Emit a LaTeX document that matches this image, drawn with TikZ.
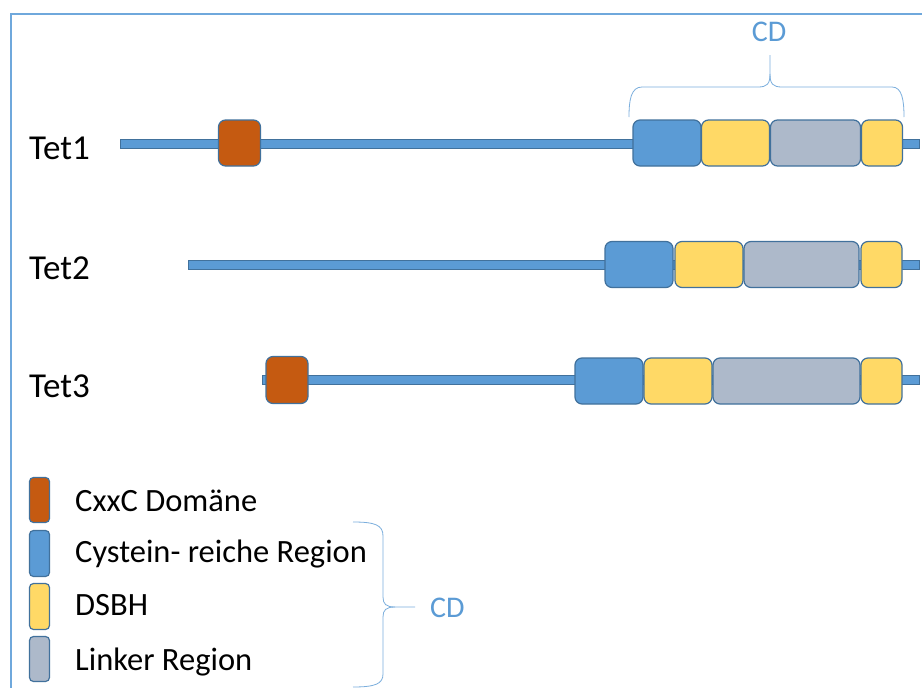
\documentclass[tikz,border=0pt]{standalone}
\usepackage{fontspec}
\setmainfont{Carlito}
\definecolor{cblue}{HTML}{5B9BD5}
\definecolor{cedge}{HTML}{41719C}
\definecolor{corange}{HTML}{C55A11}
\definecolor{cyellow}{HTML}{FFD966}
\definecolor{cgray}{HTML}{ADB9CA}
\definecolor{cframe}{HTML}{6FA8DC}
\tikzset{
  box/.style={draw=cedge, line width=1.2pt, rounded corners=7pt, inner sep=0pt},
  bar/.style={fill=cblue, draw=cedge, line width=0.8pt},
  lbl/.style={anchor=base west, inner sep=0pt, font=\fontsize{35}{40}\selectfont},
  leg/.style={anchor=base west, inner sep=0pt, font=\fontsize{32.5}{38}\selectfont},
  cdtxt/.style={inner sep=0pt, text=cblue, font=\fontsize{30}{36}\selectfont},
  brace/.style={draw=cblue!80, line width=0.8pt},
  frame/.style={draw=cframe, line width=2pt},
}
\begin{document}
\begin{tikzpicture}[x=1pt,y=-1pt]
\useasboundingbox (0,0) rectangle (922,688);
\fill[white] (0,0) rectangle (922,688);
% frame
\draw[frame] (10.5,688) -- (10.5,13.5) -- (922,13.5);

% ---------- Tet1 ----------
\node[lbl] (tet1) at (29,159) {Tet1};
\draw[bar] (120,139.5) rectangle (919,148.5);
\node[box, fill=corange, minimum width=42pt, minimum height=46pt] (t1c) at (239.5,143) {};
\node[box, fill=cblue, minimum width=68pt, minimum height=46pt] (t1a) at (667,143) {};
\node[box, fill=cyellow, minimum width=68pt, minimum height=46pt] (t1b) at (735.5,143) {};
\node[box, fill=cgray, minimum width=90pt, minimum height=46pt] (t1d) at (815.5,143) {};
\node[box, fill=cyellow, minimum width=41pt, minimum height=46pt] (t1e) at (882,143) {};

% top brace + CD
\draw[brace] (629,117) .. controls (629,100) and (631,87) .. (642,87) -- (758,87)
  .. controls (767,87) and (770,84) .. (770,74) -- (770,55);
\draw[brace] (770,74) .. controls (770,84) and (773,87) .. (782,87) -- (892,87)
  .. controls (902,87) and (904,100) .. (904,117);
\node[cdtxt, anchor=base] (cdtop) at (769,41.5) {CD};

% ---------- Tet2 ----------
\node[lbl] (tet2) at (29,279) {Tet2};
\draw[bar] (188.5,260) rectangle (919,269);
\node[box, fill=cblue, minimum width=68pt, minimum height=46pt] (t2a) at (639,264.5) {};
\node[box, fill=cyellow, minimum width=68pt, minimum height=46pt] (t2b) at (709,264.5) {};
\node[box, fill=cgray, minimum width=115pt, minimum height=46pt] (t2d) at (801.5,264.5) {};
\node[box, fill=cyellow, minimum width=41pt, minimum height=46pt] (t2e) at (881.5,264.5) {};

% ---------- Tet3 ----------
\node[lbl] (tet3) at (29,397) {Tet3};
\draw[bar] (262.5,375.5) rectangle (919,384.5);
\node[box, fill=corange, minimum width=42pt, minimum height=47pt] (t3c) at (287,380) {};
\node[box, fill=cblue, minimum width=68pt, minimum height=46pt] (t3a) at (609,381) {};
\node[box, fill=cyellow, minimum width=68pt, minimum height=46pt] (t3b) at (678,381) {};
\node[box, fill=cgray, minimum width=147pt, minimum height=46pt] (t3d) at (786.5,381) {};
\node[box, fill=cyellow, minimum width=41pt, minimum height=46pt] (t3e) at (881.5,381) {};

% ---------- Legend ----------
\node[box, fill=corange, minimum width=20pt, minimum height=45pt, rounded corners=4pt] (k1) at (39.5,500) {};
\node[box, fill=cblue, minimum width=20pt, minimum height=46pt, rounded corners=4pt] (k2) at (39.5,553.5) {};
\node[box, fill=cyellow, minimum width=20pt, minimum height=46pt, rounded corners=4pt] (k3) at (39.5,606.5) {};
\node[box, fill=cgray, minimum width=20pt, minimum height=45pt, rounded corners=4pt] (k4) at (39.5,659) {};
\node[leg] (l1) at (75,511) {CxxC Domäne};
\node[leg] (l2) at (75,562) {Cystein- reiche Region};
\node[leg] (l3) at (75,615) {DSBH};
\node[leg] (l4) at (75,670) {Linker Region};

% legend brace + CD
\draw[brace] (353,522) .. controls (375,522) and (383,525) .. (383,536) -- (383,597)
  .. controls (383,604) and (386,607) .. (395,607) -- (415,607);
\draw[brace] (395,607) .. controls (386,607) and (383,610) .. (383,617) -- (383,674)
  .. controls (383,684) and (375,687) .. (353,687);
\node[cdtxt, anchor=base west] (cdleg) at (430,617) {CD};
\end{tikzpicture}
\end{document}
